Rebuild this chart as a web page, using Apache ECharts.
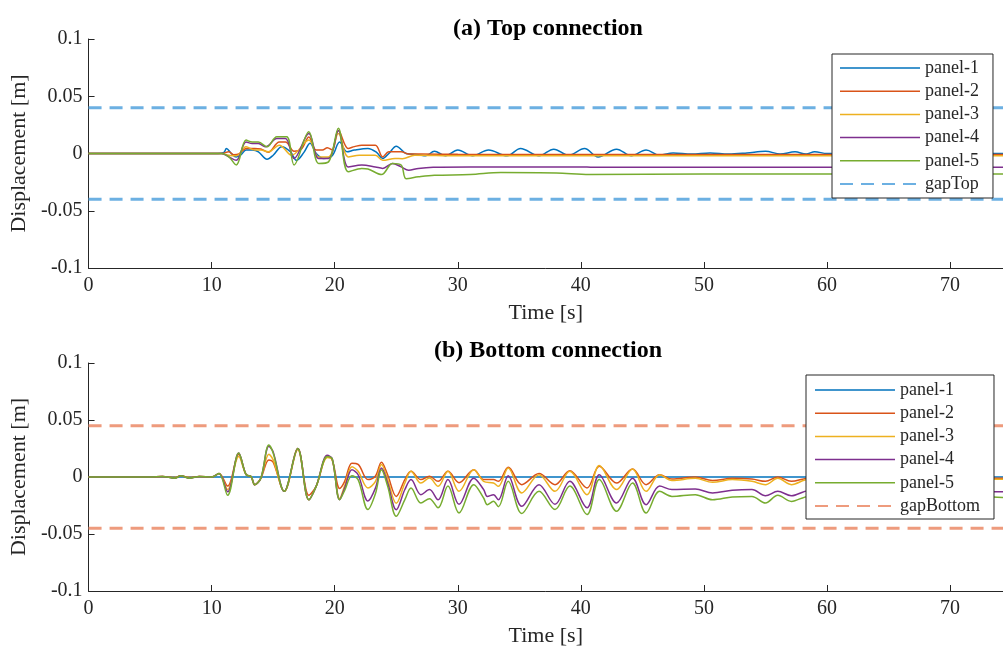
<!DOCTYPE html>
<html><head><meta charset="utf-8">
<script src="https://cdn.jsdelivr.net/npm/echarts@6/dist/echarts.min.js"></script>
<style>html,body{margin:0;padding:0;background:#fff;overflow:hidden}#c{width:1003px;height:648px}</style>
</head><body><div id="c"></div>
<script>
// ---------- data (time [s], displacement [m]) ----------
const xTicks = [0, 10, 20, 30, 40, 50, 60, 70];
const yTicks = [-0.1, -0.05, 0, 0.05, 0.1];
const seriesNames = ['panel-1', 'panel-2', 'panel-3', 'panel-4', 'panel-5'];
const gapTop = 0.04;
const gapBottom = 0.045;
const tEnd = 74.3;

// (a) Top connection
const topP1 = [[0,0],[5,0],[9,0],[10.5,0],[11.0,0.001],[11.2,0.0044],[11.6,0],[12.0,-0.003],[12.4,-0.001],[12.8,0.003],[13.3,0.003],[13.8,0.0015],[14.5,-0.005],[15.0,-0.0015],[15.7,0.006],[16.4,0.0015],[16.9,-0.006],[17.5,0.001],[18.0,0.009],[18.5,0],[19.1,-0.0044],[19.8,-0.002],[20.4,0.010],[21.0,0.0015],[21.6,0.003],[22.7,0.0044],[23.4,0.001],[23.9,-0.0044],[24.4,0],[25.0,0.0064],[25.8,0],[26.8,-0.001],[27.4,-0.002],[28.1,0.002],[29.0,-0.002],[30.0,0.003],[31.2,-0.002],[32.5,0.003],[34.0,-0.002],[35.1,0.0044],[36.6,-0.002],[37.8,0.0038],[39.0,-0.0015],[40.3,0.0044],[41.4,-0.003],[42.9,0.0038],[44.1,-0.002],[45.3,0.003],[46.4,-0.0015],[47.5,0.0005],[49,-0.0005],[50.5,0.0005],[52,-0.0005],[53.5,0.0005],[55,0.002],[56.2,-0.0005],[57.4,0.0015],[58.3,-0.0005],[59,0.0015],[60,0],[64,0],[68,0],[72,0],[74.3,0]];
const topP2 = [[0,0],[10.8,0],[11.4,0.0015],[11.8,-0.001],[12.2,-0.0005],[12.8,0.0044],[13.5,0.0044],[14.0,0.004],[14.6,0.001],[15.5,0.010],[16.0,0.010],[16.7,0.002],[17.3,0.004],[17.9,0.0145],[18.5,0.003],[19.0,0.003],[19.4,0.005],[19.8,0.003],[20.3,0.020],[21.1,0.0044],[21.6,0.006],[22.2,0.0073],[23.3,0.0073],[23.9,-0.003],[24.4,0.0015],[25.4,0.0015],[26,-0.0005],[27,-0.0005],[30,-0.0007],[50,-0.0008],[74.3,-0.0008]];
const topP3 = [[0,0],[10.8,0],[11.4,-0.0015],[12.0,-0.002],[12.8,0.0058],[13.5,0.003],[14.0,0.003],[14.6,0.0015],[15.5,0.0073],[16.5,-0.0015],[17.9,0.0117],[18.7,-0.003],[19.5,-0.003],[20.3,0.0175],[21.1,-0.003],[22.0,-0.0015],[23.3,-0.0015],[23.9,-0.006],[24.9,-0.0044],[25.5,-0.0045],[26.5,-0.0015],[30,-0.002],[50,-0.002],[74.3,-0.002]];
const topP4 = [[0,0],[10.8,0],[11.4,-0.003],[12.0,-0.006],[12.8,0.010],[13.3,0.0087],[13.8,0.0087],[14.4,0.0058],[15.3,0.013],[16.0,0.013],[16.7,-0.0044],[17.9,0.0175],[18.7,-0.0044],[19.5,-0.0044],[20.3,0.020],[21.1,-0.0117],[22.2,-0.010],[23.3,-0.0117],[23.9,-0.013],[24.7,-0.0087],[25.4,-0.0117],[26.0,-0.0146],[26.8,-0.013],[28,-0.012],[31,-0.0117],[40,-0.0117],[41,-0.012],[60,-0.012],[74.3,-0.012]];
const topP5 = [[0,0],[10.8,0],[11.4,-0.003],[12.0,-0.010],[12.8,0.0117],[13.3,0.010],[13.8,0.010],[14.5,0.0058],[15.3,0.0146],[16.1,0.0146],[16.7,-0.010],[17.9,0.019],[18.7,-0.0087],[19.5,-0.0073],[20.3,0.022],[21.1,-0.016],[22.2,-0.013],[22.7,-0.0135],[23.8,-0.0184],[24.7,-0.0087],[25.4,-0.010],[25.8,-0.022],[26.8,-0.0204],[28.1,-0.019],[31,-0.0184],[33.5,-0.0166],[38,-0.017],[40.7,-0.0184],[50,-0.018],[74.3,-0.018]];

// (b) Bottom connection
const botP1 = [[0,0],[74.3,0]];
const botP2 = [[0,0],[5,0],[6,0.0005],[7,-0.0005],[7.5,0.001],[8.2,-0.0005],[9,0.0005],[10,0],[10.6,0.003],[11.3,-0.008],[12.2,0.020],[12.8,0.002],[13.2,0.0005],[13.5,-0.0067],[14.0,-0.001],[14.65,0.015],[15.0,0.013],[15.9,-0.0126],[17.0,0.025],[17.9,-0.016],[18.5,-0.008],[19.4,0.018],[19.8,0.015],[20.4,-0.010],[20.8,-0.004],[21.4,0.012],[21.9,0.011],[22.7,-0.0023],[23.3,0.0006],[23.8,0.013],[24.3,0.002],[25.0,-0.017],[25.7,-0.0023],[26.2,0.005],[27.0,-0.0023],[27.7,0.0006],[28.4,-0.0038],[29.2,0.005],[30.1,-0.005],[31.3,0.0064],[32.1,-0.0023],[32.9,-0.0023],[33.3,-0.0038],[34.1,0.0085],[35.2,-0.0067],[36.6,0.003],[37.9,-0.0067],[39.1,0.0055],[40.5,-0.0096],[41.5,0.0094],[42.9,-0.0053],[44.2,0.007],[45.3,-0.0067],[46.4,0.002],[47.4,-0.0018],[49.3,0],[50.7,-0.003],[52.3,-0.0012],[53.9,-0.0018],[55.0,-0.0038],[56.0,0],[57.1,-0.0038],[58.5,-0.001],[60,-0.003],[62,-0.001],[65,-0.002],[68,-0.001],[71,-0.002],[73.5,-0.001],[74.3,-0.001]];
const botP3 = [[0,0],[5,0],[6,0.0005],[7,-0.0005],[7.5,0.001],[8.2,-0.0005],[9,0.0005],[10,0],[10.6,0.003],[11.3,-0.011],[12.2,0.018],[12.8,0.002],[13.2,0.0005],[13.5,-0.0067],[14.0,-0.001],[14.65,0.020],[15.0,0.015],[15.9,-0.0126],[17.0,0.024],[17.9,-0.020],[18.5,-0.008],[19.4,0.017],[19.8,0.015],[20.4,-0.019],[20.8,-0.008],[21.4,0.009],[21.9,0.005],[22.7,-0.0096],[23.3,-0.004],[23.8,0.011],[24.3,-0.0023],[25.0,-0.023],[25.7,-0.0053],[26.2,0.005],[27.0,-0.0053],[27.7,-0.0009],[28.4,-0.0082],[29.2,0.005],[30.1,-0.0126],[31.3,0.0064],[32.1,-0.0038],[32.9,-0.0053],[33.3,-0.0082],[34.1,0.008],[35.2,-0.014],[36.6,0.002],[37.9,-0.0126],[39.1,0.005],[40.5,-0.0155],[41.5,0.010],[42.9,-0.011],[44.2,0.007],[45.3,-0.0126],[46.4,0.002],[47.4,-0.003],[49.3,-0.0012],[50.7,-0.0047],[52.3,-0.0023],[53.9,-0.0038],[55.0,-0.0067],[56.0,-0.0012],[57.1,-0.0067],[58.5,-0.002],[60,-0.005],[62,-0.002],[65,-0.004],[68,-0.002],[71,-0.003],[73.5,-0.002],[74.3,-0.002]];
const botP4 = [[0,0],[5,0],[6,0.0005],[7,-0.001],[7.5,0.001],[8.2,-0.001],[9,0.0005],[10,0],[10.6,0.003],[11.3,-0.013],[12.2,0.021],[12.8,0.002],[13.2,0.0005],[13.5,-0.0067],[14.0,-0.001],[14.65,0.027],[15.0,0.022],[15.9,-0.0126],[17.0,0.025],[17.9,-0.020],[18.5,-0.008],[19.4,0.019],[19.8,0.016],[20.4,-0.020],[20.8,-0.010],[21.4,0.0064],[21.9,0.002],[22.7,-0.021],[23.3,-0.010],[23.8,0.008],[24.3,-0.0053],[25.0,-0.0287],[25.7,-0.011],[26.2,-0.0023],[27.0,-0.0155],[27.7,-0.011],[28.4,-0.020],[29.2,-0.0023],[30.1,-0.024],[31.3,-0.001],[32.1,-0.011],[32.4,-0.017],[32.9,-0.0155],[33.3,-0.020],[34.1,0.001],[35.2,-0.0257],[36.6,-0.0067],[37.9,-0.024],[39.1,-0.0038],[40.5,-0.027],[41.5,0.002],[42.9,-0.0228],[44.2,-0.001],[45.3,-0.0243],[46.4,-0.008],[47.4,-0.011],[49.3,-0.0105],[50.7,-0.014],[52.3,-0.0117],[53.9,-0.011],[55.0,-0.0164],[56.0,-0.0126],[57.1,-0.0164],[58.5,-0.012],[60,-0.016],[62,-0.012],[65,-0.015],[68,-0.012],[71,-0.014],[73.5,-0.013],[74.3,-0.013]];
const botP5 = [[0,0],[5,0],[6,0.0005],[7,-0.001],[7.5,0.001],[8.2,-0.001],[9,0.0005],[10,0],[10.6,0.003],[11.3,-0.016],[12.2,0.021],[12.8,0.002],[13.2,0.0005],[13.5,-0.0067],[14.0,-0.001],[14.65,0.028],[15.0,0.021],[15.9,-0.0126],[17.0,0.025],[17.9,-0.020],[18.5,-0.008],[19.4,0.018],[19.8,0.016],[20.4,-0.020],[20.8,-0.012],[21.4,0.001],[21.9,-0.0023],[22.7,-0.0286],[23.3,-0.015],[23.8,0.0064],[24.3,-0.008],[25.0,-0.0345],[25.7,-0.0199],[26.2,-0.0096],[27.0,-0.0228],[27.7,-0.019],[28.4,-0.027],[29.2,-0.008],[30.1,-0.0316],[31.3,-0.0067],[32.1,-0.0184],[32.4,-0.0243],[32.9,-0.0213],[33.3,-0.026],[34.1,-0.0038],[35.2,-0.032],[36.6,-0.0126],[37.9,-0.0286],[39.1,-0.008],[40.5,-0.033],[41.5,-0.0023],[42.9,-0.030],[44.2,-0.0053],[45.3,-0.0316],[46.4,-0.0126],[47.4,-0.017],[49.3,-0.0155],[50.7,-0.020],[52.3,-0.0175],[53.9,-0.017],[55.0,-0.0228],[56.0,-0.016],[57.1,-0.0214],[58.5,-0.017],[60,-0.021],[62,-0.017],[65,-0.020],[68,-0.017],[71,-0.019],[73.5,-0.0175],[74.3,-0.018]];

// ---------- styling ----------
const FONT = 'Liberation Serif';
const TXT = '#262626';
const colors = ['#0072BD', '#D95319', '#EDB120', '#7E2F8E', '#77AC30'];
const topData = [topP1, topP2, topP3, topP4, topP5];
const botData = [botP1, botP2, botP3, botP4, botP5];

function xAxisFor(gi) {
  return {
    type: 'value', gridIndex: gi, min: xTicks[0], max: tEnd, interval: 10,
    name: 'Time [s]', nameLocation: 'middle', nameGap: 34,
    nameTextStyle: { fontFamily: FONT, fontSize: 22, color: TXT },
    axisLine: { show: true, onZero: false, lineStyle: { color: TXT, width: 1 } },
    axisTick: { show: true, inside: true, length: 6, lineStyle: { color: TXT } },
    axisLabel: { fontFamily: FONT, fontSize: 20, color: TXT, margin: 8,
      showMaxLabel: false,
      formatter: v => xTicks.indexOf(v) >= 0 ? String(v) : '' },
    splitLine: { show: false }
  };
}
function yAxisFor(gi) {
  return {
    type: 'value', gridIndex: gi, min: yTicks[0], max: yTicks[yTicks.length - 1], interval: 0.05,
    name: 'Displacement [m]', nameLocation: 'middle', nameGap: 58,
    nameTextStyle: { fontFamily: FONT, fontSize: 22, color: TXT },
    axisLine: { show: true, onZero: false, lineStyle: { color: TXT, width: 1 } },
    axisTick: { show: true, inside: true, length: 6, lineStyle: { color: TXT } },
    axisLabel: { fontFamily: FONT, fontSize: 20, color: TXT, margin: 6,
      formatter: v => String(Math.round(v * 100) / 100) },
    splitLine: { show: false }
  };
}
function panelSeries(data, gi) {
  return data.map((d, i) => ({
    type: 'line', name: seriesNames[i], xAxisIndex: gi, yAxisIndex: gi,
    data: d, showSymbol: false, symbol: 'none', smooth: 0.35,
    lineStyle: { color: colors[i], width: 1.5 }, itemStyle: { color: colors[i] },
    z: 3 + i, silent: true, animation: false
  }));
}
function gapSeries(name, val, color, gi) {
  return [
    { type: 'line', name: name, xAxisIndex: gi, yAxisIndex: gi, data: [[0, val], [tEnd, val]],
      symbol: 'none', lineStyle: { color: color, width: 3, type: [13, 8] }, itemStyle: { color: color }, z: 2, animation: false },
    { type: 'line', name: name, xAxisIndex: gi, yAxisIndex: gi, data: [[0, -val], [tEnd, -val]],
      symbol: 'none', lineStyle: { color: color, width: 3, type: [13, 8] }, itemStyle: { color: color }, z: 2, animation: false }
  ];
}
function legendData(gapName) {
  return seriesNames.map(n => ({ name: n, lineStyle: { width: 1.5 } }))
    .concat([{ name: gapName, lineStyle: { width: 2 } }]);
}
const legendCommon = {
  orient: 'vertical', itemWidth: 80, itemHeight: 14, itemGap: 5.2,
  backgroundColor: '#fff', borderColor: '#262626', borderWidth: 1, borderRadius: 0,
  itemStyle: { opacity: 0, color: 'rgba(0,0,0,0)', borderWidth: 0 },
  textStyle: { fontFamily: FONT, fontSize: 18, color: TXT },
  selectedMode: false, z: 20
};

const chart = echarts.init(document.getElementById('c'), null, { renderer: 'canvas' });
chart.setOption({
  animation: false,
  backgroundColor: '#fff',
  title: [
    { text: '(a) Top connection', left: 543, top: 12, textAlign: 'center',
      textStyle: { fontFamily: FONT, fontSize: 24, fontWeight: 'bold', color: '#000' } },
    { text: '(b) Bottom connection', left: 543, top: 334, textAlign: 'center',
      textStyle: { fontFamily: FONT, fontSize: 24, fontWeight: 'bold', color: '#000' } }
  ],
  grid: [
    { left: 84, top: 39, width: 919, height: 229 },
    { left: 84, top: 363, width: 919, height: 228 }
  ],
  xAxis: [xAxisFor(0), xAxisFor(1)],
  yAxis: [yAxisFor(0), yAxisFor(1)],
  legend: [
    Object.assign({}, legendCommon, { left: 832, top: 54, padding: [5, 14, 5, 7],
      data: legendData('gapTop') }),
    Object.assign({}, legendCommon, { left: 806, top: 375, padding: [6, 14, 4, 8],
      data: legendData('gapBottom') })
  ],
  series: [].concat(
    gapSeries('gapTop', gapTop, '#6cb0e2', 0),
    panelSeries(topData, 0),
    gapSeries('gapBottom', gapBottom, '#ee9b7d', 1),
    panelSeries(botData, 1)
  )
});
</script></body></html>
